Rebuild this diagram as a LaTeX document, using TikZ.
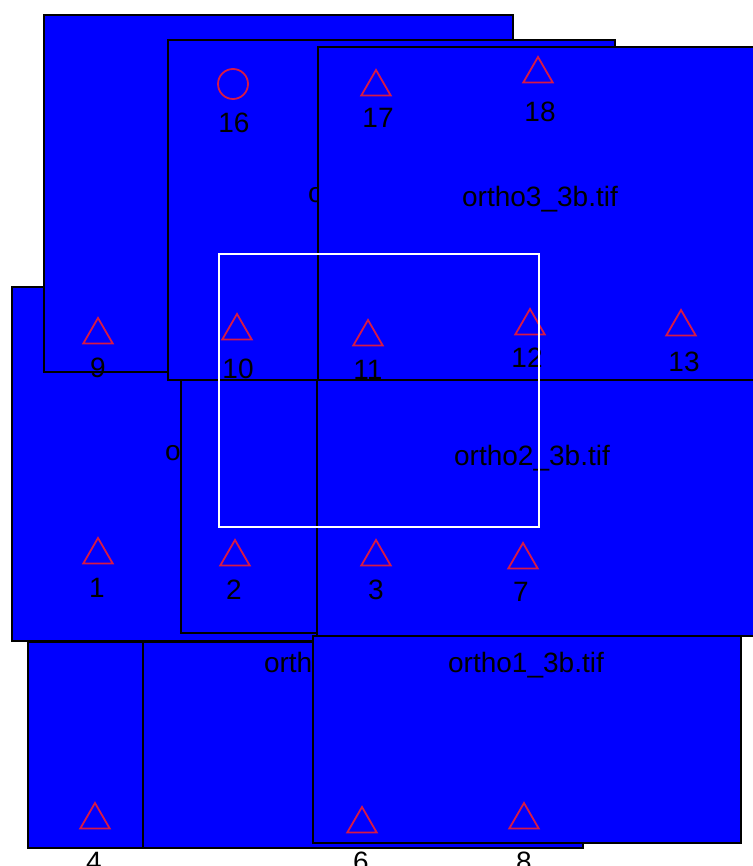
\documentclass[tikz,border=0pt]{standalone}
\usepackage{fontspec}
\setmainfont{Liberation Sans}
\usetikzlibrary{shapes.geometric}
\definecolor{tileblue}{RGB}{0,0,255}
\definecolor{markred}{RGB}{215,25,70}
\begin{document}
\begin{tikzpicture}[x=1pt,y=-1pt,
  tile/.style={draw=black, line width=1.6pt, fill=tileblue},
  tiletext/.style={font=\fontsize{28}{30}\selectfont, text=black, inner sep=0pt, outer sep=0pt},
  numtext/.style={font=\fontsize{28}{30}\selectfont, text=black, inner sep=0pt, outer sep=0pt},
  trimark/.style={regular polygon, regular polygon sides=3, draw=markred, line width=1.8pt,
                  minimum size=34pt, inner sep=0pt, outer sep=0pt},
  circmark/.style={circle, draw=markred, line width=1.8pt, minimum size=30pt, inner sep=0pt, outer sep=0pt},
  viewbox/.style={draw=white, line width=2.4pt}]
\useasboundingbox[fill=white] (0,0) rectangle (752,866);

% tiles, lowest first
\draw[tile] (12,287) rectangle (484,641);
\node[tiletext, anchor=base west] (dlab) at (165,460) {o};
\draw[tile] (44,15) rectangle (513,372);
\draw[tile] (168,40) rectangle (615,380);
\node[tiletext, anchor=base west] (blab) at (308,203) {o};
\draw[tile] (318,47) rectangle (770,380);
\node[tiletext, anchor=base] (clab) at (540,207) {ortho3\_3b.tif};
\draw[tile] (181,380) rectangle (600,633);
\draw[tile] (317,380) rectangle (770,636);
\node[tiletext, anchor=base] (flab) at (532,465) {ortho2\_3b.tif};
\draw[tile] (28,642) rectangle (300,848);
\draw[tile] (143,642) rectangle (583,848);
\node[tiletext, anchor=base west] (hlab) at (264,672) {orth};
\draw[tile] (313,636) rectangle (741,843);
\node[tiletext, anchor=base] (ilab) at (526,672) {ortho1\_3b.tif};

% markers
\node[circmark] (m16) at (233,84) {};
\node[trimark] (m17) at (376,87) {};
\node[trimark] (m18) at (538,74) {};
\node[trimark] (m9) at (98,335) {};
\node[trimark] (m10) at (237,331) {};
\node[trimark] (m11) at (368,337) {};
\node[trimark] (m12) at (530,326) {};
\node[trimark] (m13) at (681,327) {};
\node[trimark] (m1) at (98,555) {};
\node[trimark] (m2) at (235,557) {};
\node[trimark] (m3) at (376,557) {};
\node[trimark] (m7) at (523,560) {};
\node[trimark] (m4) at (95,820) {};
\node[trimark] (m6) at (362,824) {};
\node[trimark] (m8) at (524,820) {};

% marker numbers
\node[numtext] (n16) at (234,123) {16};
\node[numtext] (n17) at (378,118) {17};
\node[numtext] (n18) at (540,112) {18};
\node[numtext] (n9) at (98,368) {9};
\node[numtext] (n10) at (238,369) {10};
\node[numtext] (n11) at (368,370) {11};
\node[numtext] (n12) at (527,358) {12};
\node[numtext] (n13) at (684,362) {13};
\node[numtext] (n1) at (97,588) {1};
\node[numtext] (n2) at (234,590) {2};
\node[numtext] (n3) at (376,590) {3};
\node[numtext] (n7) at (521,592) {7};
\node[numtext] (n4) at (94,862) {4};
\node[numtext] (n6) at (361,862) {6};
\node[numtext] (n8) at (524,862) {8};

% view rectangle
\draw[viewbox] (219,254) rectangle (539,527);
\end{tikzpicture}
\end{document}
